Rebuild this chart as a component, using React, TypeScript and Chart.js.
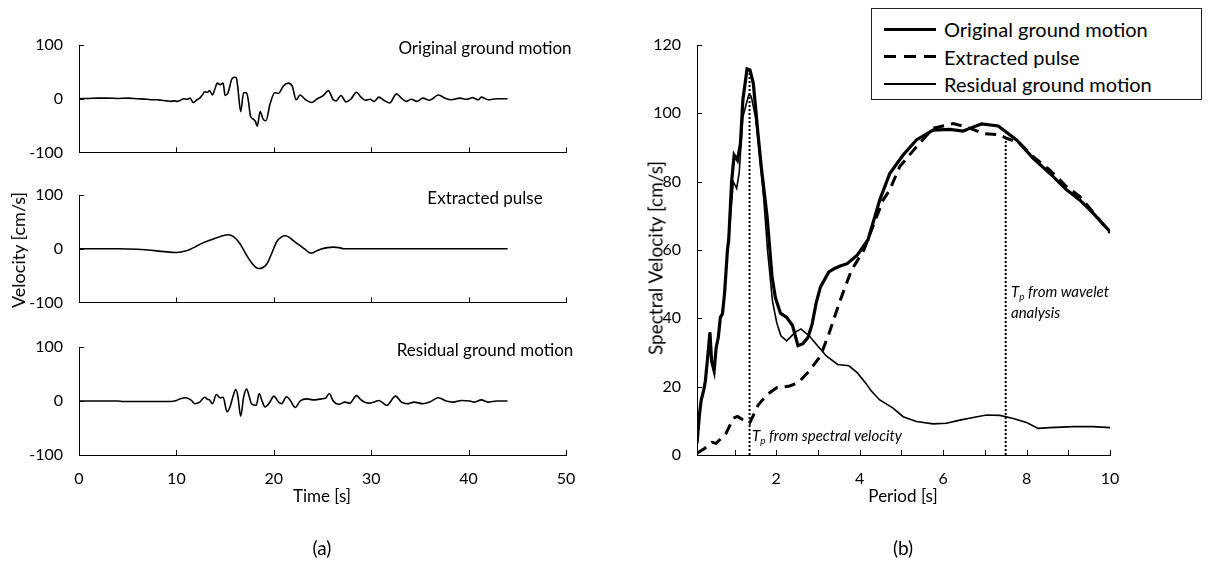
import React, { useEffect, useRef } from 'react';
import { Chart, registerables } from 'chart.js';

Chart.register(...registerables);

const FONT = 'Lato, "Noto Sans", sans-serif';

// ---------- Data (a): velocity time histories [t (s), v (cm/s)] ----------
const originalMotion: [number, number][] = [
  [0, 0], [1, 0.5], [2, 1], [3, 1], [4, 0.5], [5, 1], [6, 0], [7, -1], [7.5, -2], [8, -2],
  [8.5, -3], [9, -4], [9.4, -5], [9.8, -4], [10.1, -5], [10.4, -3], [10.76, 0], [11.1, -1],
  [11.4, 1], [11.74, -7], [12.1, -2], [12.4, 1], [12.7, 8], [12.9, 13], [13.2, 12], [13.4, 15],
  [13.7, 7], [13.95, 18], [14.2, 29], [14.5, 26], [14.8, 29], [15.0, 6], [15.3, 11], [15.7, 37],
  [16.0, 40], [16.15, 39], [16.3, 22], [16.6, -24], [16.9, 11], [17.2, 11], [17.4, -5],
  [17.6, -32], [17.9, -38], [18.1, -42], [18.3, -51], [18.6, -24], [18.9, -38], [19.2, -41],
  [19.6, -11], [20.1, 11], [20.5, 10], [20.8, 18], [21.0, 24], [21.5, 29], [21.9, 23],
  [22.3, -2], [22.7, 7], [23.2, -1], [23.9, -7], [24.4, -1], [25.1, 6], [25.6, 15], [26.1, -2],
  [26.4, -4], [26.9, 6], [27.4, -6], [27.9, -1], [28.5, 12], [28.9, 4], [29.4, -3], [29.9, -1],
  [30.3, -5], [30.8, 3], [31.3, -3], [31.9, -8], [32.6, 9], [33.1, 1], [33.6, -5], [34.1, -1],
  [34.7, -5], [35.3, 1], [36.0, -3], [36.9, 7], [37.6, 1], [38.2, -2], [39.1, 1], [39.8, -1],
  [40.4, 2], [41.0, -2], [41.3, 3], [42.0, -2], [42.9, 0], [44.0, 0],
];

const extractedPulse: [number, number][] = [
  [0, 0], [4, 0], [6, -1], [8, -4], [9, -6], [10, -7], [11, -4], [12, 4], [12.5, 9],
  [13.8, 18], [14.6, 23], [15.3, 26], [15.9, 22], [16.5, 10], [17.2, -12], [17.8, -28],
  [18.4, -37], [18.9, -35], [19.3, -28], [19.8, -8], [20.3, 13], [20.8, 22], [21.2, 24],
  [21.6, 21], [22.0, 15], [22.6, 7], [23.2, -1], [23.6, -7], [23.9, -8], [24.3, -5],
  [24.8, -1], [25.5, 2], [26.1, 3], [26.7, 2], [27.2, 0], [30, 0], [44, 0],
];

const residualMotion: [number, number][] = [
  [0, 0], [2, 0], [4, 0], [4.5, -1], [6, -1], [7.3, -1], [8.5, -1], [9.4, -1], [10, 1],
  [10.4, 4], [10.9, 6], [11.3, 4], [11.6, 0], [11.9, -5], [12.4, -2], [12.9, 7], [13.2, 3],
  [13.4, 2], [13.7, -5], [14.1, 12], [14.5, 6], [14.8, 7], [15.2, -20], [15.5, -11],
  [15.8, 8], [16.1, 21], [16.3, 10], [16.6, -28], [16.9, 7], [17.2, 22], [17.5, 7],
  [17.7, -5], [18.2, -8], [18.5, 14], [18.8, 0], [19.1, -11], [19.6, -2], [20.0, 9],
  [20.5, -2], [20.8, -5], [21.3, 8], [21.7, 1], [22.2, -12], [22.7, 0], [23.4, 4], [24.1, 2],
  [24.9, 4], [25.3, 5], [25.7, 14], [26.1, 0], [26.7, -6], [27.3, -2], [27.8, -4], [28.5, 10],
  [28.9, 3], [29.3, -2], [29.7, -4], [30.3, -2], [30.8, 1], [31.6, -8], [32.5, 9], [33.1, -2],
  [33.7, -5], [34.4, -2], [35.3, -5], [36.0, -2], [36.9, 6], [37.7, 0], [38.4, -2], [39.3, 1],
  [40.1, 0], [40.6, -2], [41.3, 2], [42.0, -2], [42.9, 0], [44, 0],
];

// ---------- Data (b): spectral velocity [T (s), Sv (cm/s)] ----------
const svOriginal: [number, number][] = [
  [0.1, 3.4], [0.16, 12], [0.2, 16], [0.26, 19], [0.3, 21.6], [0.37, 30.5], [0.41, 35.9],
  [0.45, 27.5], [0.51, 24.6], [0.56, 31.5], [0.61, 34.4], [0.66, 40.3], [0.71, 41.3],
  [0.76, 47.2], [0.83, 60], [0.86, 63], [0.93, 80], [0.99, 87.8], [1.07, 86.3], [1.14, 91],
  [1.2, 104], [1.3, 113], [1.37, 112.7], [1.45, 108.8], [1.57, 93], [1.64, 84.4],
  [1.78, 69.8], [1.9, 52], [1.98, 46], [2.1, 41.5], [2.25, 40.3], [2.39, 37.9], [2.52, 32],
  [2.64, 32.6], [2.76, 34.4], [2.86, 38.3], [2.96, 44.7], [3.06, 49.2], [3.26, 53.6],
  [3.4, 54.6], [3.53, 55.3], [3.7, 56], [3.94, 58.5], [4.2, 63], [4.48, 74.6], [4.72, 82.4],
  [5.04, 87.8], [5.36, 92.2], [5.76, 95.1], [6.16, 95.3], [6.48, 94.8], [6.64, 95.6],
  [6.92, 96.9], [7.32, 96.3], [7.76, 92.2], [8.16, 86.8], [8.56, 82.4], [8.96, 77.6],
  [9.28, 74.6], [9.6, 70.7], [10, 65.4],
];

const svExtracted: [number, number][] = [
  [0.1, 0.5], [0.29, 2], [0.46, 3.7], [0.56, 3.4], [0.8, 6.4], [0.97, 10.8], [1.07, 11.3],
  [1.2, 10.3], [1.36, 9.3], [1.57, 14.7], [1.78, 17.7], [2.01, 19.7], [2.32, 20.2],
  [2.52, 21.1], [2.79, 24.6], [3.06, 29], [3.26, 35.4], [3.53, 45.2], [3.8, 54], [4.1, 60],
  [4.56, 74.6], [4.72, 77.6], [4.96, 84.4], [5.36, 90.2], [5.76, 95.6], [6.24, 97], [6.56, 96],
  [6.96, 94.1], [7.36, 93.7], [7.52, 92.7], [7.84, 91.2], [8.16, 87.3], [8.56, 83.4],
  [8.96, 78.5], [9.28, 75.6], [9.6, 71], [10, 65],
];

const svResidual: [number, number][] = [
  [0.1, 3.4], [0.16, 12], [0.2, 16], [0.26, 19], [0.3, 21.6], [0.37, 30.5], [0.41, 35.9],
  [0.45, 27.5], [0.51, 24.6], [0.56, 31.5], [0.61, 34.4], [0.66, 40.3], [0.71, 41.3],
  [0.76, 47.2], [0.83, 60], [0.88, 66], [0.97, 80], [1.05, 78], [1.11, 82.4], [1.2, 99],
  [1.34, 105.4], [1.4, 105], [1.5, 99], [1.57, 91.5], [1.7, 75], [1.79, 60], [1.91, 45],
  [2.01, 38.8], [2.11, 34.9], [2.25, 33.4], [2.45, 35.9], [2.59, 36.9], [2.79, 34.9],
  [2.99, 32], [3.2, 29], [3.47, 26.5], [3.74, 26.1], [3.94, 24.1], [4.14, 21.1], [4.28, 18.7],
  [4.48, 16.1], [4.8, 13.7], [5.04, 11.2], [5.36, 9.8], [5.76, 9.1], [6.08, 9.3], [6.4, 10.2],
  [6.72, 11], [7.04, 11.7], [7.36, 11.6], [7.68, 10.7], [8.0, 9.5], [8.28, 7.8], [8.56, 8],
  [9.12, 8.3], [9.6, 8.3], [10, 8],
];

const tpSpectral: [number, number][] = [[1.36, 0], [1.36, 112]];
const tpWavelet: [number, number][] = [[7.5, 0], [7.5, 93]];

// ---------- Axis definitions ----------
const timeAxis = { min: 0, max: 50, step: 10 };
const velAxis = { min: -100, max: 100, step: 100 };
const periodAxis = { min: 0.1, max: 10, step: 1 };
const svAxis = { min: 0, max: 120, step: 20 };
const periodLabelEvery = 2;

const panelTitles = ['Original ground motion', 'Extracted pulse', 'Residual ground motion'];
const legendLabels = ['Original ground motion', 'Extracted pulse', 'Residual ground motion'];

// ---------- helpers ----------
type Box = { x: number; y: number; w: number; h: number };
type Area = { l: number; t: number; r: number; b: number };

const toXY = (arr: [number, number][]) => arr.map(([x, y]) => ({ x, y }));

const inwardTicks = {
  id: 'inwardTicks',
  afterDraw(chart: any) {
    const { ctx, chartArea } = chart;
    const xs = chart.scales.x;
    const ys = chart.scales.y;
    const len = 5;
    ctx.save();
    ctx.strokeStyle = '#000';
    ctx.lineWidth = 1;
    ctx.beginPath();
    xs.ticks.forEach((t: any) => {
      const px = Math.round(xs.getPixelForValue(t.value)) + 0.5;
      ctx.moveTo(px, chartArea.bottom);
      ctx.lineTo(px, chartArea.bottom - len);
    });
    ys.ticks.forEach((t: any) => {
      const py = Math.round(ys.getPixelForValue(t.value)) + 0.5;
      ctx.moveTo(chartArea.left, py);
      ctx.lineTo(chartArea.left + len, py);
    });
    ctx.stroke();
    ctx.restore();
  },
};

function makeConfig(box: Box, area: Area, datasets: any[], xs: any, ys: any, showXLabels: boolean, xCallback?: (v: number) => string) {
  return {
    type: 'line' as const,
    data: { datasets },
    plugins: [inwardTicks],
    options: {
      responsive: false,
      maintainAspectRatio: false,
      animation: false as const,
      devicePixelRatio: 1,
      events: [] as any[],
      layout: {
        padding: { left: 0, top: area.t - box.y, right: box.x + box.w - area.r, bottom: 0 },
      },
      plugins: { legend: { display: false }, tooltip: { enabled: false }, title: { display: false } },
      elements: { point: { radius: 0 } },
      scales: {
        x: {
          type: 'linear',
          min: xs.min,
          max: xs.max,
          grid: { display: false },
          border: { display: true, color: '#000', width: 1 },
          ticks: {
            display: showXLabels,
            stepSize: xs.step,
            includeBounds: false,
            autoSkip: false,
            maxRotation: 0,
            padding: 6,
            color: '#000',
            font: { family: FONT, size: 16 },
            callback: xCallback || ((v: number) => String(v)),
          },
          afterFit: (s: any) => { s.height = box.y + box.h - area.b; },
        },
        y: {
          type: 'linear',
          min: ys.min,
          max: ys.max,
          grid: { display: false },
          border: { display: true, color: '#000', width: 1 },
          ticks: {
            stepSize: ys.step,
            includeBounds: false,
            autoSkip: false,
            padding: 8,
            color: '#000',
            font: { family: FONT, size: 16 },
          },
          afterFit: (s: any) => { s.width = area.l - box.x; },
        },
      },
    },
  };
}

function ChartCanvas({ box, config }: { box: Box; config: () => any }) {
  const ref = useRef<HTMLCanvasElement>(null);
  useEffect(() => {
    const chart = new Chart(ref.current as HTMLCanvasElement, config());
    return () => chart.destroy();
  }, []);
  return (
    <canvas
      ref={ref}
      width={box.w}
      height={box.h}
      style={{ position: 'absolute', left: box.x, top: box.y, width: box.w, height: box.h }}
    />
  );
}

const lineDs = (data: [number, number][], width: number, dash: number[] = [], tension = 0) => ({
  data: toXY(data),
  borderColor: '#000',
  borderWidth: width,
  borderDash: dash,
  pointRadius: 0,
  fill: false,
  tension,
  cubicInterpolationMode: tension > 0 ? 'monotone' : 'default',
});

const txt = (style: React.CSSProperties): React.CSSProperties => ({
  position: 'absolute',
  fontFamily: FONT,
  color: '#000',
  whiteSpace: 'nowrap',
  lineHeight: 1,
  ...style,
});

const sub: React.CSSProperties = { fontSize: 10, position: 'relative', top: 3, lineHeight: 0 };

export default function App() {
  const leftBoxes: Box[] = [
    { x: 0, y: 20, w: 600, h: 150 },
    { x: 0, y: 170, w: 600, h: 150 },
    { x: 0, y: 320, w: 600, h: 170 },
  ];
  const leftAreas: Area[] = [
    { l: 79, t: 45, r: 566, b: 153 },
    { l: 79, t: 195, r: 566, b: 304 },
    { l: 79, t: 347, r: 566, b: 455 },
  ];
  const leftSeries = [originalMotion, extractedPulse, residualMotion];

  const rightBox: Box = { x: 620, y: 20, w: 595, h: 470 };
  const rightArea: Area = { l: 697, t: 45, r: 1110, b: 455 };

  return (
    <div style={{ position: 'fixed', left: 0, top: 0, width: 1215, height: 562, background: '#fff', overflow: 'hidden' }}>
      {leftBoxes.map((box, i) => (
        <ChartCanvas
          key={i}
          box={box}
          config={() =>
            makeConfig(box, leftAreas[i], [lineDs(leftSeries[i], 1.6, [], 1)], timeAxis, velAxis, i === 2)
          }
        />
      ))}
      {panelTitles.map((t, i) => (
        <div key={t} style={txt({ left: 485, top: leftAreas[i].t + 2, fontSize: 17, transform: 'translate(-50%, -50%)' })}>{t}</div>
      ))}
      <div style={txt({ left: 18, top: 250, fontSize: 18, transform: 'translate(-50%, -50%) rotate(-90deg)' })}>Velocity [cm/s]</div>
      <div style={txt({ left: 322, top: 495, fontSize: 17, transform: 'translate(-50%, -50%)' })}>Time [s]</div>
      <div style={txt({ left: 322, top: 547, fontSize: 19, transform: 'translate(-50%, -50%)' })}>(a)</div>

      <ChartCanvas
        box={rightBox}
        config={() =>
          makeConfig(
            rightBox,
            rightArea,
            [
              lineDs(tpSpectral, 2, [2, 2]),
              lineDs(tpWavelet, 2, [2, 2]),
              lineDs(svResidual, 1.6),
              lineDs(svExtracted, 3, [11, 7]),
              lineDs(svOriginal, 3.2),
            ],
            periodAxis,
            svAxis,
            true,
            (v: number) => (v % periodLabelEvery === 0 ? String(v) : '')
          )
        }
      />
      <div style={txt({ left: 655, top: 258, fontSize: 19, transform: 'translate(-50%, -50%) rotate(-90deg)' })}>Spectral Velocity [cm/s]</div>
      <div style={txt({ left: 903, top: 495, fontSize: 17, transform: 'translate(-50%, -50%)' })}>Period [s]</div>
      <div style={txt({ left: 903, top: 547, fontSize: 19, transform: 'translate(-50%, -50%)' })}>(b)</div>

      <div style={txt({ left: 752, top: 435, fontSize: 15, fontStyle: 'italic', transform: 'translateY(-50%)' })}>
        T<span style={sub}>p</span> from spectral velocity
      </div>
      <div style={txt({ left: 1011, top: 281, fontSize: 15, fontStyle: 'italic', lineHeight: '21px' })}>
        T<span style={sub}>p</span> from wavelet<br />analysis
      </div>

      <div style={{ position: 'absolute', left: 871, top: 8, width: 331, height: 92, border: '1px solid #222', background: '#fff', boxSizing: 'border-box' }}>
        {legendLabels.map((l, i) => (
          <div key={l} style={{ position: 'absolute', left: 0, top: 20 + i * 27.5, width: '100%', height: 0 }}>
            <div
              style={{
                position: 'absolute',
                left: 12,
                width: 52,
                top: i === 2 ? -0.75 : -1.5,
                height: i === 2 ? 1.5 : 3,
                background:
                  i === 1
                    ? 'repeating-linear-gradient(to right, #000 0 12px, transparent 12px 20px)'
                    : '#000',
              }}
            />
            <div style={txt({ left: 72, top: 0, fontSize: 20, transform: 'translateY(-50%)' })}>{l}</div>
          </div>
        ))}
      </div>
    </div>
  );
}
